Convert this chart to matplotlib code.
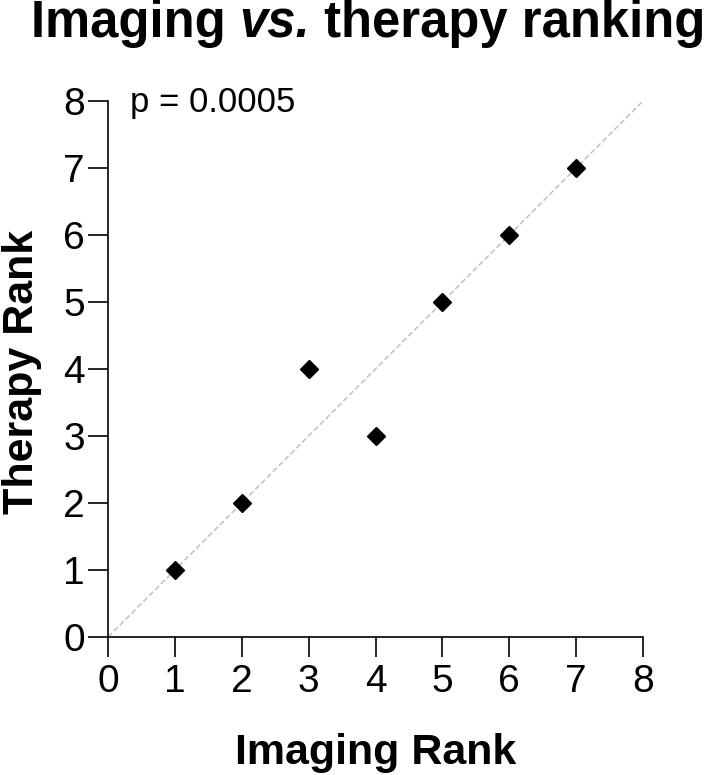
import matplotlib
matplotlib.use("Agg")
import matplotlib.pyplot as plt

imaging_rank = [1, 2, 3, 4, 5, 6, 7]
therapy_rank = [1, 2, 4, 3, 5, 6, 7]
ticks = [0, 1, 2, 3, 4, 5, 6, 7, 8]
title_parts = [('Imaging ', 'normal'), ('vs.', 'italic'), (' therapy ranking', 'normal')]

plt.rcParams['font.family'] = ['Liberation Sans', 'DejaVu Sans']

W, H = 709, 775
fig = plt.figure(figsize=(W/100, H/100), dpi=100)
ax = fig.add_axes([108/W, 1-637/H, (643-108)/W, (637-101)/H])

ax.plot([0, 8], [0, 8], color='#bbbbbb', linestyle=(0, (4, 2)), linewidth=1.0, zorder=1)
ax.plot(imaging_rank, therapy_rank, linestyle='none', marker='D', markersize=9.5,
        color='black', zorder=3, clip_on=False)

ax.set_xlim(0, 8)
ax.set_ylim(0, 8)
ax.set_xticks(ticks)
ax.set_yticks(ticks)
ax.tick_params(axis='both', which='major', length=14.5, width=1.2, labelsize=28, color='black')
ax.tick_params(axis='x', pad=5)
ax.tick_params(axis='y', pad=2)
for s in ['top', 'right']:
    ax.spines[s].set_visible(False)
for s in ['left', 'bottom']:
    ax.spines[s].set_linewidth(1.2)

ax.set_xlabel('Imaging Rank', fontsize=31, fontweight='bold')
ax.xaxis.set_label_coords(0.5, -(764-637)/(637-101))
ax.xaxis.label.set_va('baseline')
ax.set_ylabel('Therapy Rank', fontsize=31, fontweight='bold')
ax.yaxis.set_label_coords(-(108-33)/(643-108), (637-372)/(637-101))
ax.yaxis.label.set_va('baseline')

ax.text(0.33, 7.836, 'p = 0.0005', fontsize=25, ha='left', va='baseline')

# title composed of pieces
fig.canvas.draw()
renderer = fig.canvas.get_renderer()
texts = []
widths = []
for s, style in title_parts:
    t = fig.text(0, 1-37/H, s, fontsize=36.5, fontweight='bold', fontstyle=style,
                 ha='left', va='baseline')
    texts.append(t)
    widths.append(t.get_window_extent(renderer).width)
total = sum(widths)
x0 = 368 - total/2
for t, w in zip(texts, widths):
    t.set_x(x0/W)
    x0 += w

fig.savefig('out.png', dpi=100)
